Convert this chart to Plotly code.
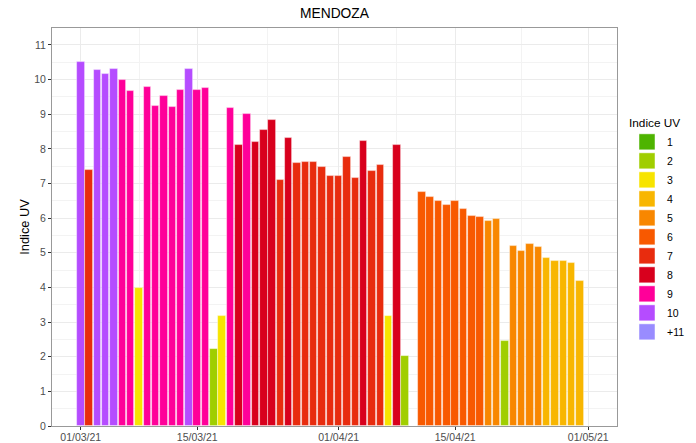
import math
import plotly.graph_objects as go

# ---------------- data ----------------
dates = (
    [f"2021-03-{d:02d}" for d in range(1, 32)]
    + [f"2021-04-{d:02d}" for d in range(1, 10)]
    + [f"2021-04-{d:02d}" for d in range(11, 31)]
)
uv_values = [
    10.50, 7.38, 10.27, 10.17, 10.30, 9.99, 9.66, 3.97, 9.78, 9.25,
    9.52, 9.22, 9.70, 10.32, 9.70, 9.76, 2.22, 3.17, 9.19, 8.12,
    9.02, 8.19, 8.54, 8.82, 7.11, 8.31, 7.58, 7.62, 7.63, 7.48,
    7.21,
    7.23, 7.78, 7.16, 8.24, 7.35, 7.53, 3.19, 8.10, 2.03,
    6.75, 6.62, 6.49, 6.38, 6.49, 6.26, 6.07, 6.04, 5.91, 5.98,
    2.46, 5.19, 5.06, 5.24, 5.16, 4.85, 4.76, 4.76, 4.70, 4.20,
]
categories = ["1", "2", "3", "4", "5", "6", "7", "8", "9", "10", "+11"]
category_colors = ["#4EB400", "#A0CE00", "#F7E400", "#F8B600", "#F88700",
                   "#F85900", "#E82C0E", "#D8001D", "#FF0099", "#B54CFF", "#998CFF"]
x_tick_vals = ["2021-03-01", "2021-03-15", "2021-04-01", "2021-04-15", "2021-05-01"]
x_tick_text = ["01/03/21", "15/03/21", "01/04/21", "15/04/21", "01/05/21"]
x_minor_vals = ["2021-03-08", "2021-03-23 12:00", "2021-04-08", "2021-04-23"]
y_ticks = list(range(0, 12))

# ---------------- mapping ----------------
def cat_index(v):
    i = int(math.floor(v))
    i = max(1, min(i, 11))
    return i - 1

bar_colors = [category_colors[cat_index(v)] for v in uv_values]

DAY_MS = 86400000
fig = go.Figure()
fig.add_trace(go.Bar(
    x=dates, y=uv_values, width=0.9 * DAY_MS,
    marker=dict(color=bar_colors, line=dict(color="rgba(255,255,255,0.55)", width=0.8)),
    showlegend=False,
))
for name, col in zip(categories, category_colors):
    fig.add_trace(go.Scatter(
        x=[None], y=[None], mode="markers", name=name,
        marker=dict(symbol="square", size=16, color=col,
                    line=dict(color="rgba(255,255,255,0.6)", width=0.8)),
    ))

FONT = "Liberation Sans, Arial, sans-serif"
grid = "#EBEBEB"
fig.update_layout(
    width=696, height=443,
    margin=dict(l=52, r=79, t=28, b=17, autoexpand=False),
    paper_bgcolor="white", plot_bgcolor="white",
    font=dict(family=FONT, color="#1A1A1A"),
    title=dict(text="MENDOZA", x=0.5, xref="paper", xanchor="center",
               y=1 - 13.5 / 443, yref="container", yanchor="middle",
               font=dict(size=13.8, color="black")),
    barmode="overlay",
    bargap=0,
    legend=dict(
        title=dict(text="Indice UV", font=dict(size=11.8, color="black")),
        font=dict(size=10.5, color="black"),
        xref="container", yref="container",
        x=627 / 696, y=1 - 112 / 443, xanchor="left", yanchor="top",
        tracegroupgap=0, itemwidth=30, bgcolor="rgba(0,0,0,0)",
        maxheight=420,
    ),
    xaxis=dict(
        type="date",
        range=["2021-02-25 13:00", "2021-05-04 11:00"],
        tickmode="array", tickvals=x_tick_vals, ticktext=x_tick_text,
        ticks="outside", ticklen=3, tickcolor="#333333", tickwidth=1,
        tickfont=dict(size=10.5, color="#4D4D4D"),
        ticklabelstandoff=-2,
        showgrid=True, gridcolor=grid, gridwidth=1,
        minor=dict(tickmode="array", tickvals=x_minor_vals, showgrid=True,
                   gridcolor="#F3F3F3", gridwidth=0.6, ticks=""),
        showline=True, linecolor="#999999", linewidth=1, mirror=True,
        zeroline=False, automargin=False,
    ),
    yaxis=dict(
        range=[0, 11.49],
        tickmode="array", tickvals=y_ticks,
        ticks="outside", ticklen=3, tickcolor="#333333", tickwidth=1,
        tickfont=dict(size=10.5, color="#4D4D4D"),
        showgrid=True, gridcolor=grid, gridwidth=1,
        minor=dict(dtick=0.5, showgrid=True, gridcolor="#F3F3F3", gridwidth=0.6, ticks=""),
        showline=True, linecolor="#999999", linewidth=1, mirror=True,
        zeroline=False, automargin=False,
        title=dict(text="Indice UV", font=dict(size=12.8, color="black"), standoff=1),
    ),
)

fig.write_html("out.html", config={"displayModeBar": False},
               post_script="document.body.style.margin='0';document.body.style.padding='0';")
